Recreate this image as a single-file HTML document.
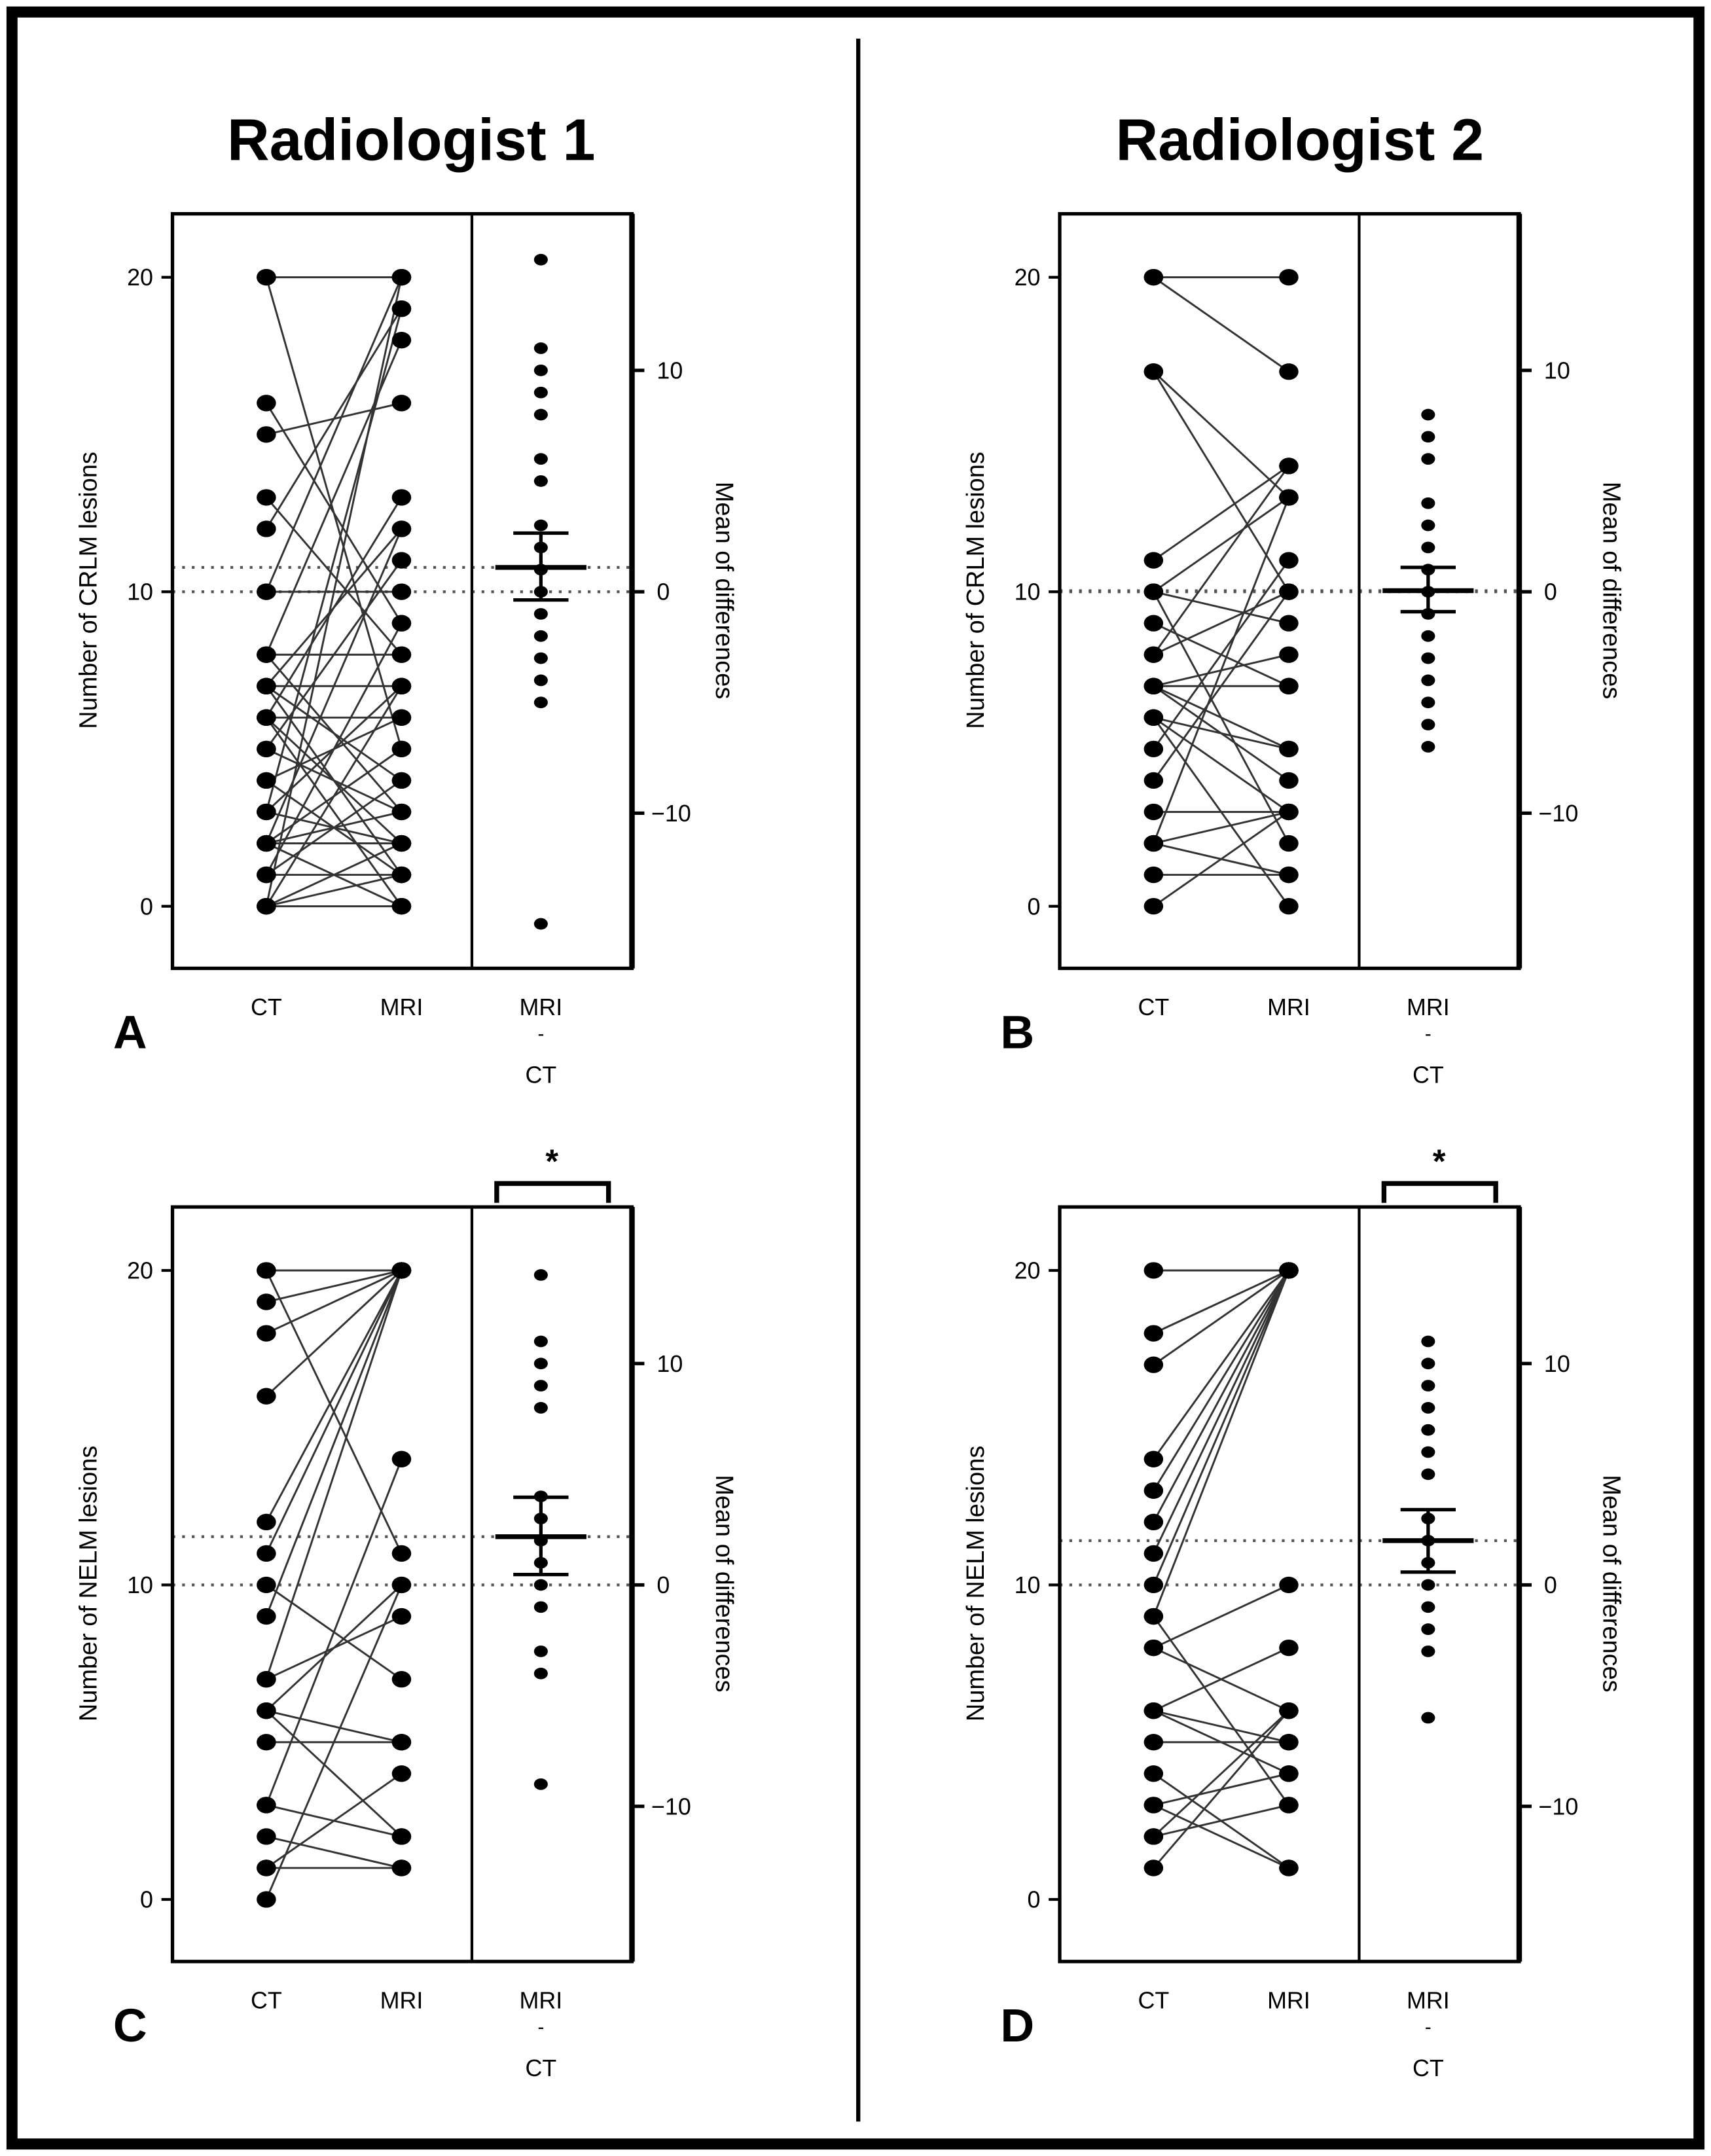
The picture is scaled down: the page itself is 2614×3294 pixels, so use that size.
<!DOCTYPE html>
<html><head><meta charset="utf-8"><style>
html,body{margin:0;padding:0;background:#fff}
svg{display:block}
text{font-family:"Liberation Sans",sans-serif;fill:#000}
</style></head><body>
<svg id="fig" width="2614" height="3294" viewBox="0 0 1240 1563" preserveAspectRatio="none" xmlns="http://www.w3.org/2000/svg">
<rect x="8.7" y="8.7" width="1222.6" height="1545.6" fill="none" stroke="#000" stroke-width="8"/>
<line x1="622" y1="28" x2="622" y2="1538" stroke="#000" stroke-width="3"/>
<text x="298" y="116" font-size="42.5" font-weight="bold" text-anchor="middle">Radiologist 1</text>
<text x="942" y="116" font-size="42.5" font-weight="bold" text-anchor="middle">Radiologist 2</text>
<g id="panels"></g>
</svg>
<script>
// Panel A data (Radiologist 1, CRLM)
const aCT  = [20,20,16,15,13,12,10,10,8,8,8,7,7,7,7,6,6,6,6,5,5,4,4,3,3,3,2,2,2,2,2,1,1,1,0,0,0,0,0];
const aMRI = [20,5,9,16,8,19,20,10,18,8,3,12,7,4,1,6,13,2,0,11,3,6,1,19,7,2,12,5,2,0,3,4,1,9,7,2,1,0,20];
const aDiff = [15,11,10,9,8,6,5,3,2,1,0,-1,-2,-3,-4,-5,-15];
const aStats = [1.1,2.65,-0.37];
// Panel B data (Radiologist 2, CRLM)
const bCT  = [20,20,17,17,11,10,10,9,8,8,7,7,7,7,6,6,6,5,4,3,2,2,2,1,0,10];
const bMRI = [20,17,13,10,14,13,9,7,10,14,7,8,5,4,5,3,0,11,10,3,13,3,1,1,3,2];
const bDiff = [8,7,6,4,3,2,1,0,-1,-2,-3,-4,-5,-6,-7];
const bStats = [0.05,1.1,-0.9];
// Panel C data (Radiologist 1, NELM)
const cCT  = [20,20,19,18,16,12,11,10,9,7,7,6,6,6,5,3,3,2,1,1,0];
const cMRI = [20,11,20,20,20,20,20,7,20,20,9,10,5,2,5,2,14,1,1,4,10];
const cDiff = [14,11,10,9,8,4,3,2,1,0,-1,-3,-4,-9];
const cStats = [2.18,3.96,0.47];
// Panel D data (Radiologist 2, NELM)
const dCT  = [20,18,17,14,13,12,11,10,9,9,8,8,6,6,6,5,4,3,3,2,2,1];
const dMRI = [20,20,20,20,20,20,20,20,20,3,10,6,8,5,4,5,1,4,1,3,6,6];
const dDiff = [11,10,9,8,7,6,5,3,2,1,0,-1,-2,-3,-6];
const dStats = [2.0,3.4,0.58];

const NS="http://www.w3.org/2000/svg";
const root=document.getElementById('panels');
function mk(tag,attrs,parent){const e=document.createElementNS(NS,tag);for(const k in attrs)e.setAttribute(k,attrs[k]);(parent||root).appendChild(e);return e;}

function panel(o){
  const g=mk('g',{});
  
  
  const x0=o.x0, x1=o.x0+333, xd=o.x0+217, top=o.top, bot=o.top+547;
  const y0=o.top+502, per=22.8;
  const yL=v=>y0-v*per;
  const zeroR=yL(10), perR=16.05;
  const yR=v=>zeroR-v*perR;
  const xCT=x0+68, xMRI=x0+166, xD=x0+267;
  const l1=mk('line',{x1:x0,x2:x1,y1:zeroR,y2:zeroR,stroke:'#555','stroke-width':2,'stroke-dasharray':'2,5'},g);
  
  
  const l2=mk('line',{x1:x0,x2:x1,y1:yR(o.stats[0]),y2:yR(o.stats[0]),stroke:'#555','stroke-width':2,'stroke-dasharray':'2,5'},g);
  
  
  for(let i=0;i<o.ct.length;i++){
    const ln=mk('line',{x1:xCT,y1:yL(o.ct[i]),x2:xMRI,y2:yL(o.mri[i]),stroke:'#333','stroke-width':1.4},g);
    
    
  }
  for(let i=0;i<o.ct.length;i++){
    const c1=mk('ellipse',{cx:xCT,cy:yL(o.ct[i]),rx:7,ry:6,fill:'#000'},g);
    
    
    const c2=mk('ellipse',{cx:xMRI,cy:yL(o.mri[i]),rx:7,ry:6,fill:'#000'},g);
    
    
  }
  for(const v of o.diff){
    const c=mk('ellipse',{cx:xD,cy:yR(v),rx:5,ry:4.2,fill:'#000'},g);
    
    
  }
  const m=mk('line',{x1:xD-33,x2:xD+33,y1:yR(o.stats[0]),y2:yR(o.stats[0]),stroke:'#000','stroke-width':3.5},g);
  
  
  const v=mk('line',{x1:xD,x2:xD,y1:yR(o.stats[1]),y2:yR(o.stats[2]),stroke:'#000','stroke-width':2.5},g);
  
  
  for(const s of [o.stats[1],o.stats[2]]){
    const w=mk('line',{x1:xD-20,x2:xD+20,y1:yR(s),y2:yR(s),stroke:'#000','stroke-width':2.5},g);
    
    
  }
  const fr=mk('rect',{x:x0,y:top,width:333,height:547,fill:'none',stroke:'#000','stroke-width':2.5},g);
  
  
  const ra=mk('line',{x1:x1,x2:x1,y1:top,y2:bot,stroke:'#000','stroke-width':4},g);
  
  
  const dv=mk('line',{x1:xd,x2:xd,y1:top,y2:bot,stroke:'#000','stroke-width':2},g);
  
  
  for(const t of [0,10,20]){
    const tk=mk('line',{x1:x0-8,x2:x0,y1:yL(t),y2:yL(t),stroke:'#000','stroke-width':2},g);
    
    
    const tx=mk('text',{x:x0-14,y:yL(t)+6,'font-size':17,'text-anchor':'end'},g);
    tx.textContent=t;
    
    
  }
  for(const t of [10,0,-10]){
    const tk=mk('line',{x1:x1,x2:x1+9,y1:yR(t),y2:yR(t),stroke:'#000','stroke-width':2.5},g);
    
    
    const tx=mk('text',{x:t<0?x1+14:x1+18,y:yR(t)+6,'font-size':17},g);
    tx.textContent=t<0?'\u221210':String(t);
    
    
  }
  const yt=mk('text',{x:0,y:0,'font-size':18,'text-anchor':'middle',transform:`translate(${x0-55},${top+273}) rotate(-90)`},g);
  yt.textContent=o.ytitle;
  
  
  const rt=mk('text',{x:0,y:0,'font-size':18,'text-anchor':'middle',transform:`translate(${x1+61},${top+273}) rotate(90)`},g);
  rt.textContent='Mean of differences';
  
  
  const lb=[[xCT,'CT'],[xMRI,'MRI'],[xD,'MRI']];
  for(const [x,s] of lb){
    const t=mk('text',{x:x,y:bot+34,'font-size':17,'text-anchor':'middle'},g);
    t.textContent=s;
    
    
  }
  const dash=mk('text',{x:xD,y:bot+52,'font-size':14,'text-anchor':'middle'},g);
  dash.textContent='-';
  
  
  const ct2=mk('text',{x:xD,y:bot+83,'font-size':17,'text-anchor':'middle'},g);
  ct2.textContent='CT';
  
  
  const L=mk('text',{x:x0-43,y:bot+58,'font-size':34,'font-weight':'bold'},g);
  L.textContent=o.letter;
  
  
  if(o.star){
    const br=mk('path',{d:`M${xd+18} ${top-3} V${top-17} H${x1-17} V${top-3}`,fill:'none',stroke:'#000','stroke-width':3.5},g);
    
    
    const st=mk('text',{x:(xd+x1)/2,y:top-25,'font-size':24,'font-weight':'bold','text-anchor':'middle',fill:'#1a2a4a'},g);
    st.textContent='*';
    
    
  }
}
panel({letter:'A',x0:125,top:155,ct:aCT,mri:aMRI,diff:aDiff,stats:aStats,ytitle:'Number of CRLM lesions'});
panel({letter:'B',x0:768,top:155,ct:bCT,mri:bMRI,diff:bDiff,stats:bStats,ytitle:'Number of CRLM lesions'});
panel({letter:'C',x0:125,top:875,ct:cCT,mri:cMRI,diff:cDiff,stats:cStats,ytitle:'Number of  NELM lesions',star:true});
panel({letter:'D',x0:768,top:875,ct:dCT,mri:dMRI,diff:dDiff,stats:dStats,ytitle:'Number of NELM lesions',star:true});
</script>
</body></html>
